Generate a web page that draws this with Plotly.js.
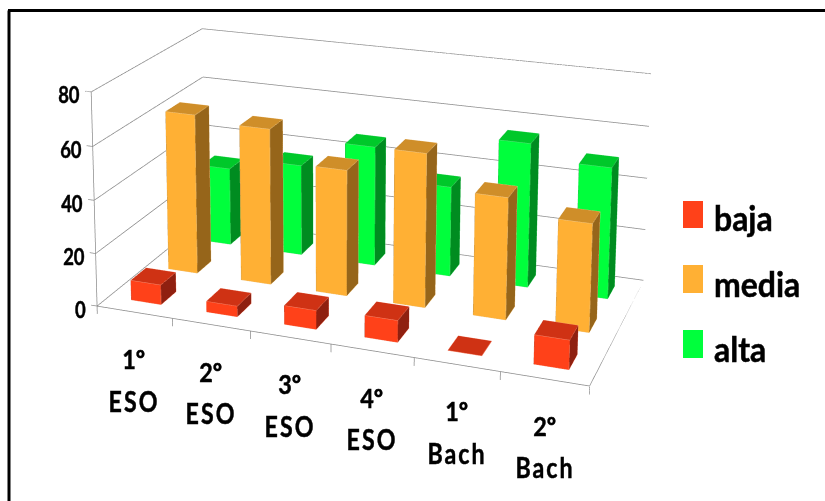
<!DOCTYPE html>
<html><head><meta charset="utf-8"><script src="https://cdn.plot.ly/plotly-3.0.1.min.js"></script>
<style>
html,body{margin:0;background:#fff;overflow:hidden}
#wrap{position:absolute;left:0;top:0;width:825px;height:501px;overflow:hidden}
#c{position:absolute}
/* Narrow, heavy labels: each size is squeezed horizontally around its own anchor */
#c text{transform-box:fill-box;stroke:#000;stroke-width:.5px}
#c text[style*="font-size: 22px"]{transform-origin:right center;transform:scaleX(.84)}
#c text[style*="font-size: 26px"]{transform-origin:center;transform:scaleX(.9)}
#c text[style*="font-size: 29px"]{transform-origin:center;transform:scaleX(.8);letter-spacing:2.5px}
#c text[style*="font-size: 34px"]{transform-origin:left center;transform:scaleX(.94)}
</style></head>
<body><div id="wrap"><div id="c"></div></div>
<script>
// Enrolment levels per school year, drawn as clustered 3D columns.
var yearLabels = ['1º', '2º', '3º', '4º', '1º', '2º'];
var stageLabels = ['ESO', 'ESO', 'ESO', 'ESO', 'Bach', 'Bach'];
var seriesNames = ['baja', 'media', 'alta'];
var baja = [7.5, 4, 7, 8, 0, 10.5];
var media = [62, 60, 48, 58, 45.5, 40];
var alta = [31, 36, 47, 35, 55.5, 50];
var zTicks = [0, 20, 40, 60, 80];

var frontColors = ['#FF4119', '#FFB034', '#00FF3C'];
var topColors = ['#CF3214', '#CF8E29', '#00C82A'];
var sideColors = ['#8F2010', '#96651A', '#008C20'];
var edgeColors = ['#F58A70', '#EFC88A', '#5FE07F'];
var gridColor = '#8C8C8C';
var textFont = 'Lato, Carlito, "Open Sans", sans-serif';

// The view sits high above the chart, so the scene is larger than the window and cropped by #wrap.
var sceneW = 922, sceneH = 1442, sceneLeft = -97, sceneTop = -811;
var box = document.getElementById('c');
box.style.left = sceneLeft + 'px';
box.style.top = sceneTop + 'px';
function paperX(px) { return (px - sceneLeft) / sceneW; }
function paperY(px) { return 1 - (px - sceneTop) / sceneH; }

var xRange = [-0.15, 6], yRange = [0, 3], zRange = [-4, 80];
var nCat = yearLabels.length, nSer = seriesNames.length;
var barX = 0.4, barY = 0.4; // column footprint inside a category / series cell

function barBox(c, s, v) {
  var x0 = c + (1 - barX) / 2, x1 = x0 + barX;
  var y0 = s + (1 - barY) / 2, y1 = y0 + barY;
  return [[x0, y0, 0], [x1, y0, 0], [x1, y1, 0], [x0, y1, 0], [x0, y0, v], [x1, y0, v], [x1, y1, v], [x0, y1, v]];
}

function columns(values, s) {
  var x = [], y = [], z = [], i = [], j = [], k = [], fc = [];
  values.forEach(function (v, c) {
    var n = x.length;
    barBox(c, s, v).forEach(function (p) {
      x.push(p[0]); y.push(p[1]); z.push(p[2]);
    });
    var faces = [
      [[0, 1, 5], frontColors[s]], [[0, 5, 4], frontColors[s]],
      [[1, 2, 6], sideColors[s]], [[1, 6, 5], sideColors[s]],
      [[4, 5, 6], topColors[s]], [[4, 6, 7], topColors[s]],
      [[3, 0, 4], sideColors[s]], [[3, 4, 7], sideColors[s]],
      [[2, 3, 7], sideColors[s]], [[2, 7, 6], sideColors[s]],
      [[0, 1, 2], topColors[s]], [[0, 2, 3], topColors[s]]
    ];
    faces.forEach(function (f) {
      i.push(n + f[0][0]); j.push(n + f[0][1]); k.push(n + f[0][2]); fc.push(f[1]);
    });
  });
  return {
    type: 'mesh3d', name: seriesNames[s], x: x, y: y, z: z, i: i, j: j, k: k, facecolor: fc,
    flatshading: true, hoverinfo: 'skip', showscale: false,
    lighting: { ambient: 1, diffuse: 0, specular: 0, roughness: 1, fresnel: 0 }
  };
}

// Thin pale outline along the visible column edges
function outlines(values, s) {
  var ex = [], ey = [], ez = [];
  values.forEach(function (v, c) {
    var b = barBox(c, s, v);
    [[0, 1, 5, 4, 0], [4, 7, 6, 5], [1, 2, 6]].forEach(function (path) {
      path.forEach(function (n) { ex.push(b[n][0]); ey.push(b[n][1]); ez.push(b[n][2]); });
      ex.push(null); ey.push(null); ez.push(null);
    });
  });
  return { type: 'scatter3d', mode: 'lines', x: ex, y: ey, z: ez, line: { color: edgeColors[s], width: 1 }, hoverinfo: 'skip', showlegend: false };
}

// Walls, floor and tick marks
var lx = [], ly = [], lz = [];
function seg(pts) {
  pts.forEach(function (p) { lx.push(p[0]); ly.push(p[1]); lz.push(p[2]); });
  lx.push(null); ly.push(null); lz.push(null);
}
zTicks.forEach(function (t) {
  seg([[-0.08, 0, t], [0, 0, t], [0, nSer, t], [nCat, nSer, t]]);
});
seg([[0, 0, zTicks[zTicks.length - 1]], [0, 0, 0], [nCat, 0, 0], [nCat, nSer, 0]]);
for (var q = 0; q <= nCat; q++) seg([[q, 0, 0], [q, 0, -3]]);

var traces = [
  { type: 'scatter3d', mode: 'lines', x: lx, y: ly, z: lz, line: { color: gridColor, width: 1.5 }, hoverinfo: 'skip', showlegend: false },
  columns(baja, 0), columns(media, 1), columns(alta, 2),
  outlines(baja, 0), outlines(media, 1), outlines(alta, 2)
];

var sceneNotes = [];
zTicks.forEach(function (t) {
  sceneNotes.push({ x: 0, y: 0, z: t, text: String(t), showarrow: false, xanchor: 'right', xshift: -9, yshift: -3,
    font: { family: textFont, size: 22, weight: 700, color: '#000' } });
});
yearLabels.forEach(function (l, c) {
  sceneNotes.push({ x: c + 0.5, y: 0, z: 0, text: l, showarrow: false, yshift: -47,
    font: { family: textFont, size: 26, weight: 700, color: '#000' } });
  sceneNotes.push({ x: c + 0.5, y: 0, z: 0, text: stageLabels[c], showarrow: false, yshift: -88,
    font: { family: textFont, size: 29, weight: 700, color: '#000' } });
});

// Camera fitted in axis-fraction units; the offsets account for the extra tick room in the ranges.
var ax = 1.027, ay = 0.522, az = 0.457;
var dx = ax / 6 * 0.075, dz = az / 80 * 2;

var swatchTops = [201, 265, 330], swatchBottoms = [228, 293, 358], labelMids = [217, 283, 348];
var shapes = [
  { type: 'line', xref: 'paper', yref: 'paper', x0: paperX(9), x1: paperX(9), y0: paperY(501), y1: paperY(10.5), line: { color: '#000', width: 3 } },
  { type: 'line', xref: 'paper', yref: 'paper', x0: paperX(8), x1: paperX(825), y0: paperY(10.5), y1: paperY(10.5), line: { color: '#000', width: 3 } }
];
var annotations = [];
seriesNames.forEach(function (n, s) {
  shapes.push({ type: 'rect', xref: 'paper', yref: 'paper', x0: paperX(683), x1: paperX(703), y0: paperY(swatchBottoms[s]), y1: paperY(swatchTops[s]),
    fillcolor: frontColors[s], line: { width: 0 } });
  annotations.push({ xref: 'paper', yref: 'paper', x: paperX(712), y: paperY(labelMids[s]), xanchor: 'left', yanchor: 'middle', text: n, showarrow: false,
    font: { family: textFont, size: 34, weight: 700, color: '#000' } });
});

function hidden(r) {
  return { visible: false, range: r, autorange: false, showgrid: false, zeroline: false, showline: false, showticklabels: false, ticks: '', showbackground: false, showspikes: false, title: { text: '' } };
}
var layout = {
  width: sceneW, height: sceneH, margin: { l: 0, r: 0, t: 0, b: 0 }, autosize: false,
  paper_bgcolor: '#fff', showlegend: false, shapes: shapes, annotations: annotations,
  scene: {
    domain: { x: [0, 1], y: [0, 1] }, bgcolor: 'rgba(0,0,0,0)',
    xaxis: hidden(xRange), yaxis: hidden(yRange), zaxis: hidden(zRange),
    aspectmode: 'manual',
    aspectratio: { x: ax * 6.15 / 6, y: ay, z: az * 84 / 80 },
    camera: {
      eye: { x: 1.133 + dx, y: -3.226, z: 1.256 + dz },
      center: { x: 0.010 + dx, y: -0.108, z: 0.608 + dz },
      up: { x: 0.040, y: -0.122, z: 1 },
      projection: { type: 'perspective' }
    },
    annotations: sceneNotes
  }
};
Plotly.newPlot('c', traces, layout, { displayModeBar: false });
</script></body></html>
